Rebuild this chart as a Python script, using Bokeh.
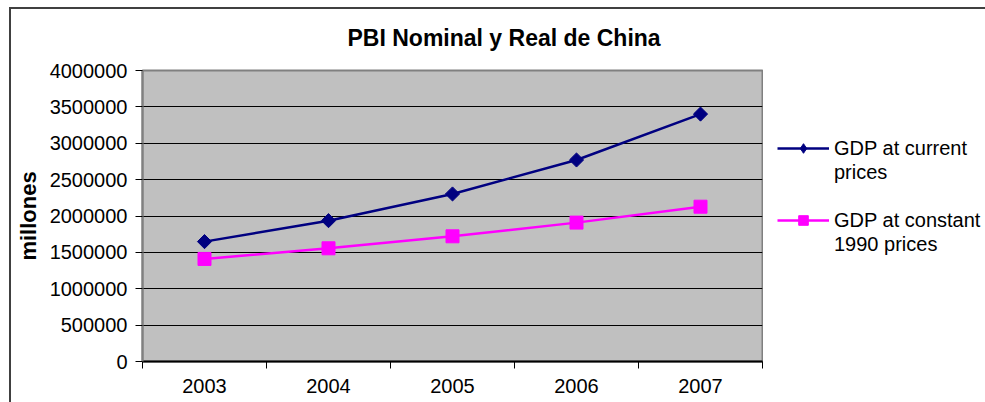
import math
from bokeh.plotting import figure
from bokeh.layouts import row
from bokeh.models import (FixedTicker, Legend, LegendItem, Range1d,
                          NumeralTickFormatter)
from bokeh.embed import file_html
from bokeh.resources import INLINE

# ---- data ----
years = ["2003", "2004", "2005", "2006", "2007"]
gdp_current = [1648000, 1936000, 2303000, 2770000, 3401000]
gdp_constant = [1410000, 1556000, 1721000, 1909000, 2128000]
y_ticks = [0, 500000, 1000000, 1500000, 2000000, 2500000, 3000000, 3500000, 4000000]
series_names = ["GDP at current", "prices", "GDP at constant", "1990 prices"]
title_text = "PBI Nominal y Real de China"
y_label = "millones"

x = list(range(1, len(years) + 1))
bounds = [i + 0.5 for i in range(0, len(years) + 1)]

FONT = "Liberation Sans"
NAVY = "#000080"
MAGENTA = "#FF00FF"

p = figure(width=763, height=402, output_backend="svg", toolbar_location=None,
           x_range=Range1d(0.5, len(years) + 0.5), y_range=Range1d(0, y_ticks[-1]),
           min_border_left=142, min_border_right=1, min_border_top=70,
           min_border_bottom=41)

p.background_fill_color = "#C0C0C0"
p.border_fill_alpha = 0
p.outline_line_color = "#808080"
p.outline_line_width = 2

# title
p.title.text = title_text
p.title.text_font = FONT
p.title.text_font_size = "23px"
p.title.text_font_style = "bold"
p.title.text_color = "black"
p.title.align = "left"
p.title.offset = 205
p.title.standoff = 39

# series
p.line(x, gdp_current, line_color=NAVY, line_width=2.5)
p.scatter(x, gdp_current, marker="square", angle=math.pi / 4, size=10,
          fill_color=NAVY, line_color=NAVY)
p.line(x, gdp_constant, line_color=MAGENTA, line_width=2.5)
p.scatter(x, gdp_constant, marker="square", size=13,
          fill_color=MAGENTA, line_color=MAGENTA)

# y axis
p.yaxis.ticker = FixedTicker(ticks=y_ticks)
p.yaxis.formatter = NumeralTickFormatter(format="0")
p.yaxis.major_label_text_font = FONT
p.yaxis.major_label_text_font_size = "20px"
p.yaxis.major_label_text_color = "black"
p.yaxis.major_tick_out = 7
p.yaxis.major_tick_in = 0
p.yaxis.major_tick_line_color = "black"
p.yaxis.minor_tick_line_color = None
p.yaxis.axis_line_color = "#808080"
p.yaxis.axis_line_width = 2
p.yaxis.major_label_standoff = 8
p.yaxis.axis_label = y_label
p.yaxis.axis_label_text_font = FONT
p.yaxis.axis_label_text_font_size = "22px"
p.yaxis.axis_label_text_font_style = "bold"
p.yaxis.axis_label_text_color = "black"
p.yaxis.axis_label_standoff = 6

# x axis
p.xaxis.ticker = FixedTicker(ticks=x, minor_ticks=bounds)
p.xaxis.major_label_overrides = {xi: yr for xi, yr in zip(x, years)}
p.xaxis.major_label_text_font = FONT
p.xaxis.major_label_text_font_size = "20px"
p.xaxis.major_label_text_color = "black"
p.xaxis.major_tick_line_color = None
p.xaxis.major_tick_out = 7
p.xaxis.major_tick_in = 0
p.xaxis.minor_tick_line_color = "black"
p.xaxis.minor_tick_out = 7
p.xaxis.minor_tick_in = 0
p.xaxis.axis_line_color = "black"
p.xaxis.axis_line_width = 2
p.xaxis.major_label_standoff = 10

# grid
p.xgrid.visible = False
p.ygrid.ticker = FixedTicker(ticks=y_ticks)
p.ygrid.grid_line_color = "black"
p.ygrid.grid_line_width = 1

# ---- legend panel (separate figure to the right) ----
q = figure(width=222, height=402, output_backend="svg", toolbar_location=None,
           x_axis_location=None, y_axis_location=None,
           x_range=Range1d(0, 1), y_range=Range1d(0, 1),
           min_border_left=0, min_border_right=0, min_border_top=70,
           min_border_bottom=41)
q.outline_line_color = None
q.background_fill_alpha = 0
q.border_fill_alpha = 0
q.xgrid.visible = False
q.ygrid.visible = False

# legend sample renderers: kept outside the visible range, shown only in the legend
off = [-10, -9]
ql1 = q.line(off, off, line_color=NAVY, line_width=2.5)
qm1 = q.scatter(off, off, marker="diamond", fill_color=NAVY, line_color=NAVY)
ql2 = q.line(off, off, line_color=MAGENTA, line_width=2.5)
qm2 = q.scatter(off, off, marker="square", fill_color=MAGENTA, line_color=MAGENTA)
blank = q.line(off, off, line_alpha=0)

legend = Legend(items=[
    LegendItem(label=series_names[0], renderers=[ql1, qm1]),
    LegendItem(label=series_names[1], renderers=[blank]),
    LegendItem(label=" ", renderers=[blank]),
    LegendItem(label=series_names[2], renderers=[ql2, qm2]),
    LegendItem(label=series_names[3], renderers=[blank]),
], location=(14, 105))
legend.border_line_color = None
legend.background_fill_alpha = 0
legend.padding = 0
legend.margin = 0
legend.spacing = 0
legend.glyph_width = 52
legend.glyph_height = 24
legend.label_height = 24
legend.label_standoff = 5
legend.label_text_font = FONT
legend.label_text_font_size = "20px"
legend.label_text_color = "black"
q.add_layout(legend)

layout = row(p, q, spacing=0)
layout.styles = {
    "box-shadow": "inset 9px 7px 0 0 #ffffff, inset 11px 9px 0 0 #404040",
}

open("out.html", "w").write(file_html(layout, INLINE))
